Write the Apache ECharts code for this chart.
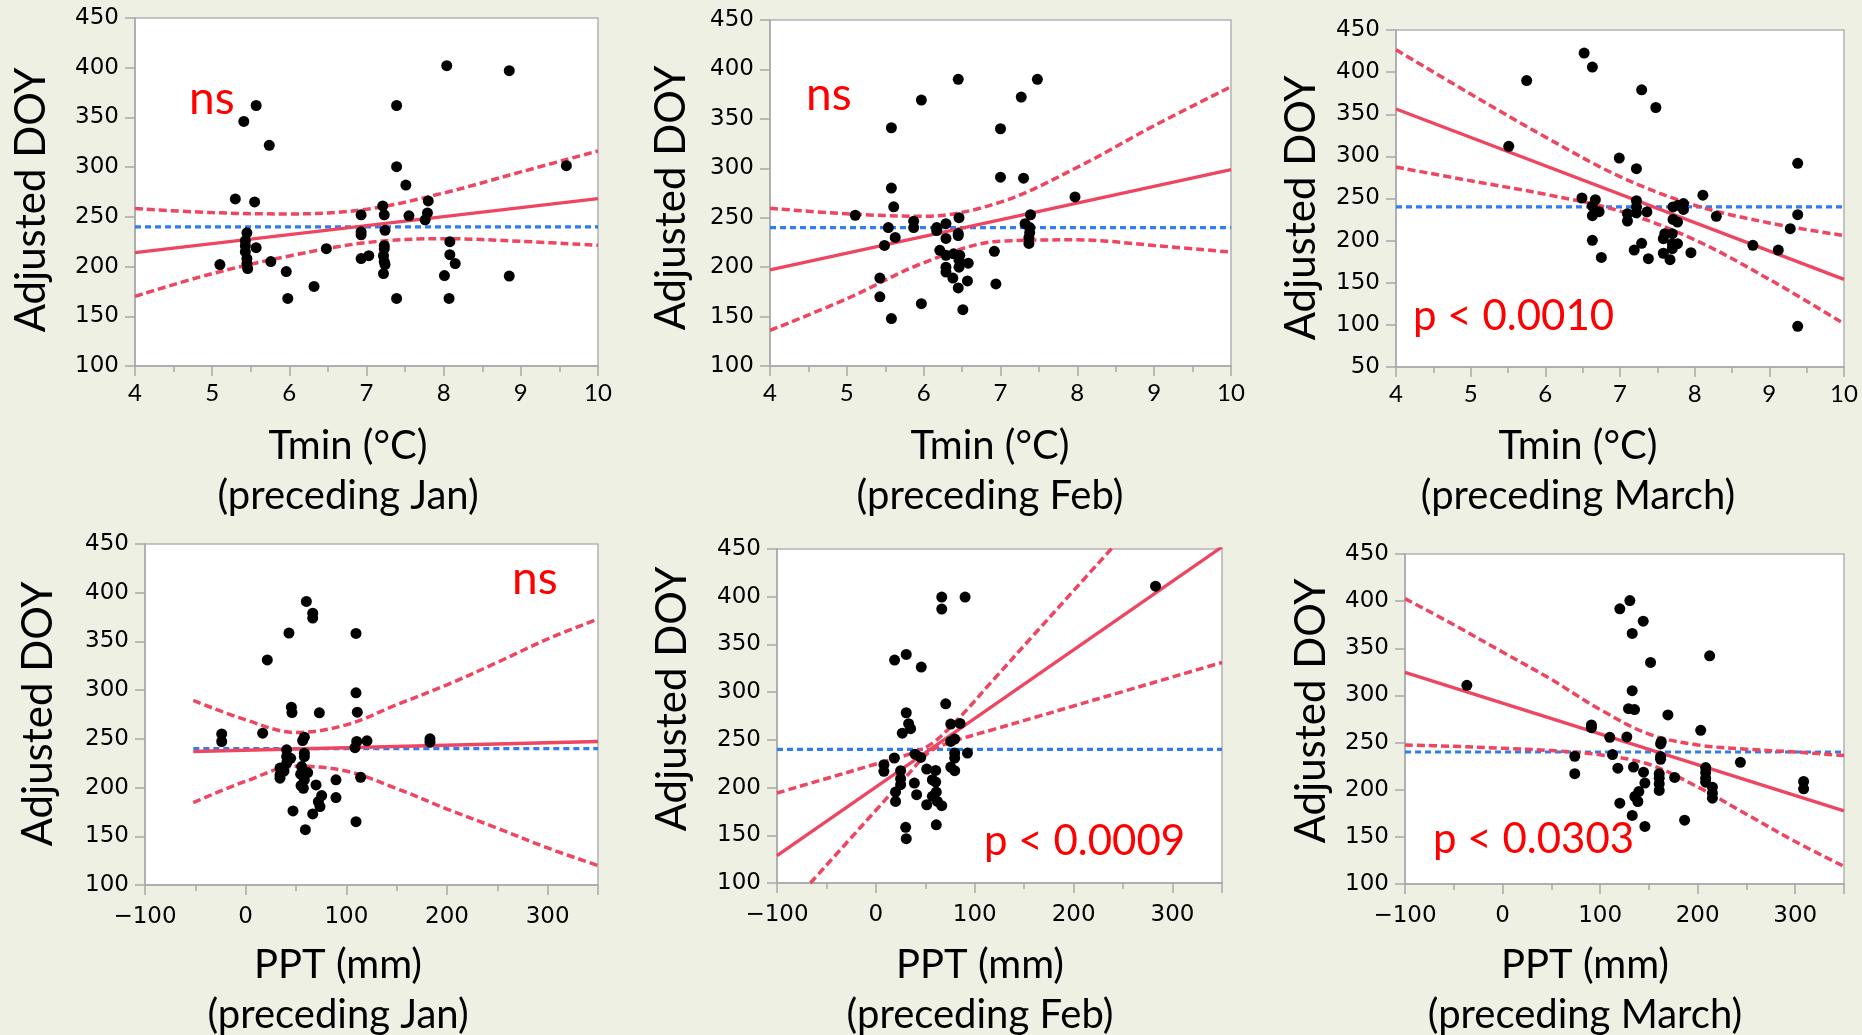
<!DOCTYPE html>
<html>
<head>
<meta charset="utf-8">
<script src="https://cdn.jsdelivr.net/npm/echarts@6/dist/echarts.min.js"></script>
<style>
  html, body { margin: 0; padding: 0; background: #EFF0E4; }
  #chart { width: 1862px; height: 1035px; }
</style>
</head>
<body>
<div id="chart"></div>
<script>
// ---- axis ranges ----
const tminRange = [4, 10];
const pptRange = [-100, 350];
const doyRange = [100, 450];
const doyRangeMar = [50, 450];
const meanDOY = 240;

// ---- Tmin, preceding Jan ----
const tJanPts = [[8.04,402],[8.85,397],[5.57,362],[7.39,362],[5.41,346],[5.74,322],[7.39,300.5],[9.59,301.5],[7.51,282],[5.30,268],[5.55,265],[7.80,266],[7.21,261],[7.23,252],[6.93,252],[7.55,251],[7.79,254],[7.76,247],[7.24,236.5],[6.93,235],[6.93,232],[5.45,234],[5.43,226],[5.43,221],[5.57,219],[5.43,215],[5.45,208],[5.45,203],[5.46,198],[5.10,202],[5.76,205],[6.48,218],[5.96,195],[5.98,168],[6.32,180],[6.93,208],[7.03,211],[7.23,221],[7.23,218],[7.22,211],[7.23,205],[7.24,202],[7.22,193],[7.39,168],[8.08,225],[8.08,212],[8.15,203],[8.01,191],[8.07,168],[8.85,190.5]];
const tminSteps = [4, 5, 6, 7, 8, 9, 10];
const tJanUpper = [258.3, 254.3, 252.9, 257.6, 274, 295.2, 316.3];
const tJanLower = [170.1, 192.9, 210.7, 224.1, 228.1, 225.4, 221.4];
const tJanFit = [214, 268.3];

// ---- Tmin, preceding Feb ----
const tFebPts = [[6.45,390],[7.48,390],[5.97,369],[7.27,372],[5.58,341],[7.00,340],[7.00,291],[7.30,290],[5.58,280],[7.97,271],[5.61,261],[5.11,252.5],[6.46,250],[5.87,246.5],[5.87,240],[5.54,240],[6.17,240],[6.17,237],[6.29,244],[6.45,234],[6.45,232],[5.63,230],[6.29,229],[5.49,222],[7.39,253],[7.32,244],[7.38,240],[7.38,235],[7.37,230],[7.37,224],[6.92,216],[6.21,217],[6.29,212],[6.39,213.5],[6.47,212],[6.46,207],[6.46,200],[6.58,204],[6.29,200],[6.29,195],[6.38,189],[6.57,186],[6.45,179],[6.94,183],[5.43,189],[5.43,170],[5.97,163],[6.51,157],[5.58,148]];
const tFebUpper = [259.6, 253.9, 251.5, 265.7, 301, 343.1, 382.5];
const tFebLower = [136, 168, 204.4, 226.3, 227.6, 221.9, 215.2];
const tFebFit = [197.3, 298.7];

// ---- Tmin, preceding March ----
const tMarPts = [[6.52,422.6],[6.63,406],[5.75,390],[7.29,379],[7.48,358],[5.51,312],[6.99,298],[7.22,285.4],[9.38,291.7],[8.11,254],[6.49,250.6],[6.67,248.6],[6.63,241],[6.72,234.3],[6.63,229.6],[7.22,247.4],[7.22,240],[7.10,232],[7.22,233],[7.36,234],[7.10,223.3],[7.71,240],[7.78,242],[7.85,244],[7.85,237],[7.71,225.2],[7.77,222],[8.29,228.8],[9.38,230.8],[9.28,214.2],[7.60,208.2],[7.70,208.2],[7.58,202.3],[7.70,196.4],[7.77,196.4],[7.70,190.4],[7.95,185.7],[6.63,200.3],[7.29,196.8],[7.19,188.8],[6.75,180],[7.38,178.6],[7.58,185],[7.67,177.4],[8.78,194.4],[9.12,188.8],[9.38,98.3]];
const tMarUpper = [426.6, 374, 323, 276, 242, 221, 206];
const tMarLower = [287.3, 271, 255, 235, 201, 154, 101.4];
const tMarFit = [356.2, 154];

// ---- PPT, preceding Jan ----
const pJanPts = [[60.3,391],[66.6,379],[66.6,374],[43,358.6],[109.6,358.2],[21.5,331],[109.6,297.3],[110.9,277.4],[45.4,282.5],[46,277],[73.2,276.7],[-23.8,255],[-23.8,247.3],[16.9,255.8],[58.3,251.7],[56.6,248.3],[110.3,247.3],[108.6,241],[120.5,248],[183.1,250],[183.1,246.6],[40.7,238.7],[40.7,231.8],[44.7,230],[58.3,235.3],[58.3,231.8],[40.7,225],[34.1,220],[38.1,217],[34.1,213],[34.1,209.6],[55.6,221.6],[54.6,213.7],[61.6,215.4],[58.3,208],[55,202],[57.3,199.3],[69.9,202.7],[89.7,208],[114.2,210.6],[75.5,191.8],[72.2,185.6],[73.8,180.5],[89.7,189.7],[47,176],[66.6,173],[109.6,165],[59.3,156.8]];
const pJanSteps = [-52, 0, 50, 100, 150, 200, 250, 300, 350];
const pJanUpper = [289.4, 269.5, 256.5, 264.4, 285, 305.5, 328.5, 352.5, 373];
const pJanLower = [184.6, 206.5, 222, 217, 199, 178, 158.3, 138, 120];
const pJanFitX = [-52, 350];
const pJanFit = [237, 247.3];

// ---- PPT, preceding Feb ----
const pFebPts = [[66.6,399.6],[90.2,399.6],[66.6,387],[282.8,411],[30.7,339.5],[18.9,333.6],[45.9,326.3],[70.6,287.8],[30.7,278.4],[33.1,267],[35.1,261.7],[26.7,257],[75.7,266.5],[85.1,267.2],[75.7,248.4],[79.7,250.8],[79.7,236.2],[79.7,231],[92.6,236.2],[39.5,235],[45.3,231.6],[18.6,231],[8.1,224],[8.1,217],[25,217.7],[25,209.3],[25,203],[19.9,195.3],[19.9,185.5],[38.9,204.7],[41.2,192.5],[51.4,219.4],[60.5,218],[57.1,208.2],[60.5,205.8],[61.1,195.3],[57.1,190.8],[51.4,182],[62.2,185.5],[66.6,181],[75.7,221.5],[79.7,217.7],[61.1,161],[30.1,158.3],[30.7,146.4]];
const pFebUpperX = [-100, -50, 0, 30, 55, 80, 120, 160, 200, 240];
const pFebUpper = [194.3, 209.5, 224.7, 233.8, 245, 268.3, 314.3, 360.4, 406.4, 452.4];
const pFebLowerX = [-66.2, -30, 0, 30, 55, 80, 120, 160, 200, 250, 300, 350];
const pFebLower = [100, 141.7, 176.2, 210.7, 238, 249, 261.2, 273.3, 285.5, 300.7, 315.9, 331.1];
const pFebFit = [128.6, 452.2];

// ---- PPT, preceding March ----
const pMarPts = [[130.5,400.6],[120.2,391.8],[144.2,378.8],[132.9,365.7],[212.3,342],[151.7,335],[-36.6,310.7],[132.9,305],[129.1,286],[135.3,285],[169.5,279.3],[91.1,268.7],[91.1,265.8],[203.1,263],[109.9,255.6],[127.4,256],[162,248.6],[162.7,251],[162,235.1],[162,232.3],[74,235.5],[112.7,237.3],[243.8,229],[74,217],[118.2,222.8],[134.2,224],[144.5,218.6],[208.2,223.5],[208.2,218.2],[208.2,212.2],[208.2,208],[160.6,217],[160.6,212.2],[160.6,206.2],[160.6,199.2],[176.4,213],[145.9,207],[139.7,198],[135.6,192.8],[138.7,187.5],[215.1,202.7],[215.1,196.3],[215.1,191],[308.6,208.7],[308.6,201],[120.2,185.7],[132.9,172.7],[145.9,161],[186.6,167.7]];
const pMarSteps = [-100, -50, 0, 50, 100, 150, 200, 250, 300, 350];
const pMarUpper = [402.7, 375, 346, 317, 285, 259, 247.5, 243, 240, 236.2];
const pMarLower = [247.5, 246, 244, 241.5, 237, 227, 203, 174, 145, 118.7];
const pMarFit = [324.4, 177.6];

// ---- text ----
const yTitle = 'Adjusted DOY';
const tminTitle = 'Tmin (°C)';
const pptTitle = 'PPT (mm)';
const monthTitles = ['(preceding Jan)', '(preceding Feb)', '(preceding March)'];
const notes = ['ns', 'ns', 'p < 0.0010', 'ns', 'p < 0.0009', 'p < 0.0303'];

const zip = (xs, ys) => xs.map((x, i) => [x, ys[i]]);

const AXIS_GRAY = '#A8A8A8';
const RED = '#EE4560';
const BLUE = '#2F7DF2';

const panels = [
  { grid: { left: 135, top: 18, width: 463, height: 348 }, top: true, xr: tminRange, yr: doyRange,
    pts: tJanPts, upper: zip(tminSteps, tJanUpper), lower: zip(tminSteps, tJanLower), fit: zip(tminRange, tJanFit), meanX: tminRange },
  { grid: { left: 770, top: 20, width: 461, height: 346 }, top: true, xr: tminRange, yr: doyRange,
    pts: tFebPts, upper: zip(tminSteps, tFebUpper), lower: zip(tminSteps, tFebLower), fit: zip(tminRange, tFebFit), meanX: tminRange },
  { grid: { left: 1396, top: 30, width: 448, height: 337 }, top: true, xr: tminRange, yr: doyRangeMar,
    pts: tMarPts, upper: zip(tminSteps, tMarUpper), lower: zip(tminSteps, tMarLower), fit: zip(tminRange, tMarFit), meanX: tminRange },
  { grid: { left: 145, top: 544, width: 453, height: 341 }, top: false, xr: pptRange, yr: doyRange,
    pts: pJanPts, upper: zip(pJanSteps, pJanUpper), lower: zip(pJanSteps, pJanLower), fit: zip(pJanFitX, pJanFit), meanX: pJanFitX },
  { grid: { left: 777, top: 549, width: 445, height: 334 }, top: false, xr: pptRange, yr: doyRange,
    pts: pFebPts, upper: zip(pFebUpperX, pFebUpper), lower: zip(pFebLowerX, pFebLower), fit: zip(pptRange, pFebFit), meanX: pptRange },
  { grid: { left: 1405, top: 554, width: 439, height: 330 }, top: false, xr: pptRange, yr: doyRange,
    pts: pMarPts, upper: zip(pMarSteps, pMarUpper), lower: zip(pMarSteps, pMarLower), fit: zip(pptRange, pMarFit), meanX: pptRange }
];

const tickLabel = v => (v < 0 ? '\u2212' + Math.abs(v) : String(v));

const grids = [], xAxes = [], yAxes = [], series = [];
panels.forEach((p, i) => {
  grids.push(Object.assign({
    show: true, backgroundColor: '#ffffff', borderColor: '#B3B3B3', borderWidth: 1.5,
    containLabel: false, outerBoundsMode: 'none'
  }, p.grid));

  xAxes.push({
    gridIndex: i, type: 'value', min: p.xr[0], max: p.xr[1], interval: p.top ? 1 : 100,
    axisLine: { show: true, onZero: false, lineStyle: { color: AXIS_GRAY, width: 1.5 } },
    axisTick: { show: true, inside: false, length: 10, lineStyle: { color: AXIS_GRAY, width: 1.5 } },
    minorTick: { show: true, splitNumber: 2, length: 6, lineStyle: { color: AXIS_GRAY, width: 1.5 } },
    splitLine: { show: false }, minorSplitLine: { show: false },
    axisLabel: {
      show: true, margin: p.top ? 15 : 21, color: '#000',
      fontFamily: p.top ? 'Lato' : 'DejaVu Sans', fontSize: p.top ? 24 : 23,
      showMinLabel: true, showMaxLabel: p.top, formatter: tickLabel
    }
  });

  yAxes.push({
    gridIndex: i, type: 'value', min: p.yr[0], max: p.yr[1], interval: 50,
    axisLine: { show: true, onZero: false, lineStyle: { color: AXIS_GRAY, width: 1.5 } },
    axisTick: { show: true, inside: false, length: 10, lineStyle: { color: AXIS_GRAY, width: 1.5 } },
    splitLine: { show: false },
    axisLabel: {
      show: true, margin: 16, color: '#000', fontFamily: 'DejaVu Sans', fontSize: 23,
      showMinLabel: true, showMaxLabel: true
    }
  });

  const base = { xAxisIndex: i, yAxisIndex: i, silent: true, clip: true, animation: false };
  series.push(Object.assign({
    type: 'line', data: [[p.meanX[0], meanDOY], [p.meanX[1], meanDOY]], symbol: 'none', z: 2,
    lineStyle: { color: BLUE, width: 3.2, type: [6, 4] }
  }, base));
  series.push(Object.assign({
    type: 'line', data: p.upper, smooth: 0.35, symbol: 'none', z: 3,
    lineStyle: { color: RED, width: 3.5, type: [8, 4] }
  }, base));
  series.push(Object.assign({
    type: 'line', data: p.lower, smooth: 0.35, symbol: 'none', z: 3,
    lineStyle: { color: RED, width: 3.5, type: [8, 4] }
  }, base));
  series.push(Object.assign({
    type: 'line', data: p.fit, symbol: 'none', z: 3,
    lineStyle: { color: RED, width: 3.3, type: 'solid' }
  }, base));
  series.push(Object.assign({
    type: 'scatter', data: p.pts, symbol: 'circle', symbolSize: 11, z: 5,
    itemStyle: { color: '#000', opacity: 1 }
  }, base));
});

// axis titles and significance notes
const graphics = [];
const addText = (text, x, y, size, color, align, rotation) => {
  graphics.push({
    type: 'text', x: x, y: y, rotation: rotation || 0, silent: true, z: 10,
    style: { text: text, font: size + 'px Lato', fill: color, align: align, verticalAlign: 'middle' }
  });
};

const yTitlePos = [[31, 200], [671, 198], [1301, 208], [38, 714], [672, 699], [1311, 711]];
yTitlePos.forEach(q => addText(yTitle, q[0], q[1], 42, '#000', 'center', Math.PI / 2));

const xTitleCenters = [348, 990, 1578, 338, 980, 1585];
xTitleCenters.forEach((cx, i) => {
  const topRow = i < 3;
  addText(topRow ? tminTitle : pptTitle, cx, topRow ? 446 : 965, 40, '#000', 'center');
  addText(monthTitles[i % 3], cx, topRow ? 496 : 1015, 40, '#000', 'center');
});

const notePos = [[189, 114, 46], [806, 110, 46], [1413, 330, 42], [512, 594, 46], [984, 855, 42], [1433, 853, 42]];
notePos.forEach((q, i) => addText(notes[i], q[0], q[1] - 0.33 * q[2], q[2], '#FF0000', 'left'));

const chart = echarts.init(document.getElementById('chart'), null, { renderer: 'canvas' });
chart.setOption({
  backgroundColor: '#EFF0E4',
  animation: false,
  grid: grids,
  xAxis: xAxes,
  yAxis: yAxes,
  series: series,
  graphic: graphics
});
</script>
</body>
</html>
